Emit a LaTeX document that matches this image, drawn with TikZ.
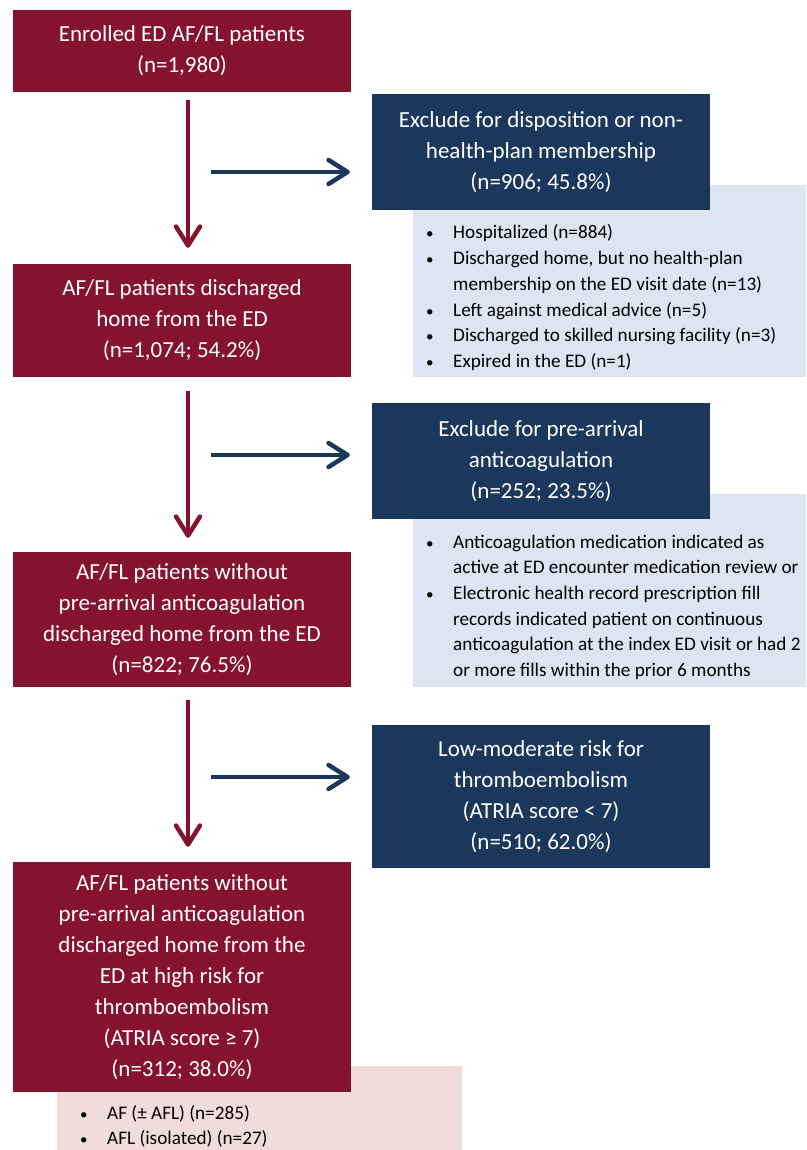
\documentclass[tikz,border=0pt]{standalone}
\usepackage{fontspec}
\setmainfont{Carlito}
\usetikzlibrary{arrows.meta}
\definecolor{maroon}{RGB}{133,19,47}
\definecolor{navy}{RGB}{27,55,92}
\definecolor{paleblue}{RGB}{220,229,241}
\definecolor{palepink}{RGB}{241,220,220}
\newcommand{\dotitem}{{\fontsize{15}{15}\selectfont\textbullet}}
\tikzset{
  mainbox/.style={fill=maroon,text=white,minimum width=338pt,inner sep=0pt,align=center,
    font=\fontsize{23}{31}\selectfont},
  exbox/.style={fill=navy,text=white,minimum width=338pt,inner sep=0pt,align=center,
    font=\fontsize{23}{31}\selectfont},
  listbox/.style={inner sep=0pt},
  listtext/.style={anchor=base west,inner sep=0pt,font=\fontsize{19.2}{25.7}\selectfont},
  downflow/.style={line width=4.5pt,maroon,-{Straight Barb[length=19pt,width=24pt,line cap=round,line join=round]}},
  sideflow/.style={line width=4.5pt,navy,-{Straight Barb[length=19pt,width=24pt,line cap=round,line join=round]}}
}
\begin{document}
\begin{tikzpicture}[x=1pt,y=-1pt]
\useasboundingbox (0,0) rectangle (806,1150);
% bullet panels (behind the boxes)
\node[listbox,fill=paleblue,minimum width=393pt,minimum height=192pt] (list1) at (609.5,281) {};
\node[listbox,fill=paleblue,minimum width=393pt,minimum height=193pt] (list2) at (609.5,590.5) {};
\node[listbox,fill=palepink,minimum width=405pt,minimum height=84pt] (list4) at (259.5,1108) {};
% main flow
\node[mainbox,minimum height=82pt] (enrolled) at (182,51) {Enrolled ED AF/FL patients\\(n=1,980)};
\node[mainbox,minimum height=113pt] (home) at (182,320.5) {AF/FL patients discharged\\home from the ED\\(n=1,074; 54.2\%)};
\node[mainbox,minimum height=135pt] (noac) at (182,619.5) {AF/FL patients without\\pre-arrival anticoagulation\\discharged home from the ED\\(n=822; 76.5\%)};
\node[mainbox,minimum height=230pt] (highrisk) at (182,977) {AF/FL patients without\\pre-arrival anticoagulation\\discharged home from the\\ED at high risk for\\thromboembolism\\(ATRIA score ≥ 7)\\(n=312; 38.0\%)};
% exclusions
\node[exbox,minimum height=116pt] (ex1) at (541,152) {Exclude for disposition or non-\\health-plan membership\\(n=906; 45.8\%)};
\node[exbox,minimum height=116pt] (ex2) at (541,461) {Exclude for pre-arrival\\anticoagulation\\(n=252; 23.5\%)};
\node[exbox,minimum height=143pt] (ex3) at (541,796.5) {Low-moderate risk for\\thromboembolism\\(ATRIA score < 7)\\(n=510; 62.0\%)};
% bullet texts
\node[listtext] (items1) at (426,239) {\begin{tabular}[t]{@{}p{27pt}@{}l@{}}
\dotitem & Hospitalized (n=884)\\
\dotitem & Discharged home, but no health-plan\\
 & membership on the ED visit date (n=13)\\
\dotitem & Left against medical advice (n=5)\\
\dotitem & Discharged to skilled nursing facility (n=3)\\
\dotitem & Expired in the ED (n=1)
\end{tabular}};
\node[listtext] (items2) at (426,548) {\begin{tabular}[t]{@{}p{27pt}@{}l@{}}
\dotitem & Anticoagulation medication indicated as\\
 & active at ED encounter medication review or\\
\dotitem & Electronic health record prescription fill\\
 & records indicated patient on continuous\\
 & anticoagulation at the index ED visit or had 2\\
 & or more fills within the prior 6 months
\end{tabular}};
\node[listtext] (items4) at (80,1119) {\begin{tabular}[t]{@{}p{27pt}@{}l@{}}
\dotitem & AF (± AFL) (n=285)\\
\dotitem & AFL (isolated) (n=27)
\end{tabular}};
% arrows
\draw[downflow,shorten <=8pt,shorten >=16pt] ([xshift=6pt]enrolled.south) -- ([xshift=6pt]home.north);
\draw[downflow,shorten <=14pt,shorten >=14pt] ([xshift=6pt]home.south) -- ([xshift=6pt]noac.north);
\draw[downflow,shorten <=13pt,shorten >=15pt] ([xshift=6pt]noac.south) -- ([xshift=6pt]highrisk.north);
\coordinate (split1) at (211,172);
\coordinate (split2) at (211,455);
\coordinate (split3) at (211,777);
\draw[sideflow,shorten >=22pt] (split1) -- (split1 -| ex1.west);
\draw[sideflow,shorten >=22pt] (split2) -- (split2 -| ex2.west);
\draw[sideflow,shorten >=22pt] (split3) -- (split3 -| ex3.west);
\end{tikzpicture}
\end{document}
